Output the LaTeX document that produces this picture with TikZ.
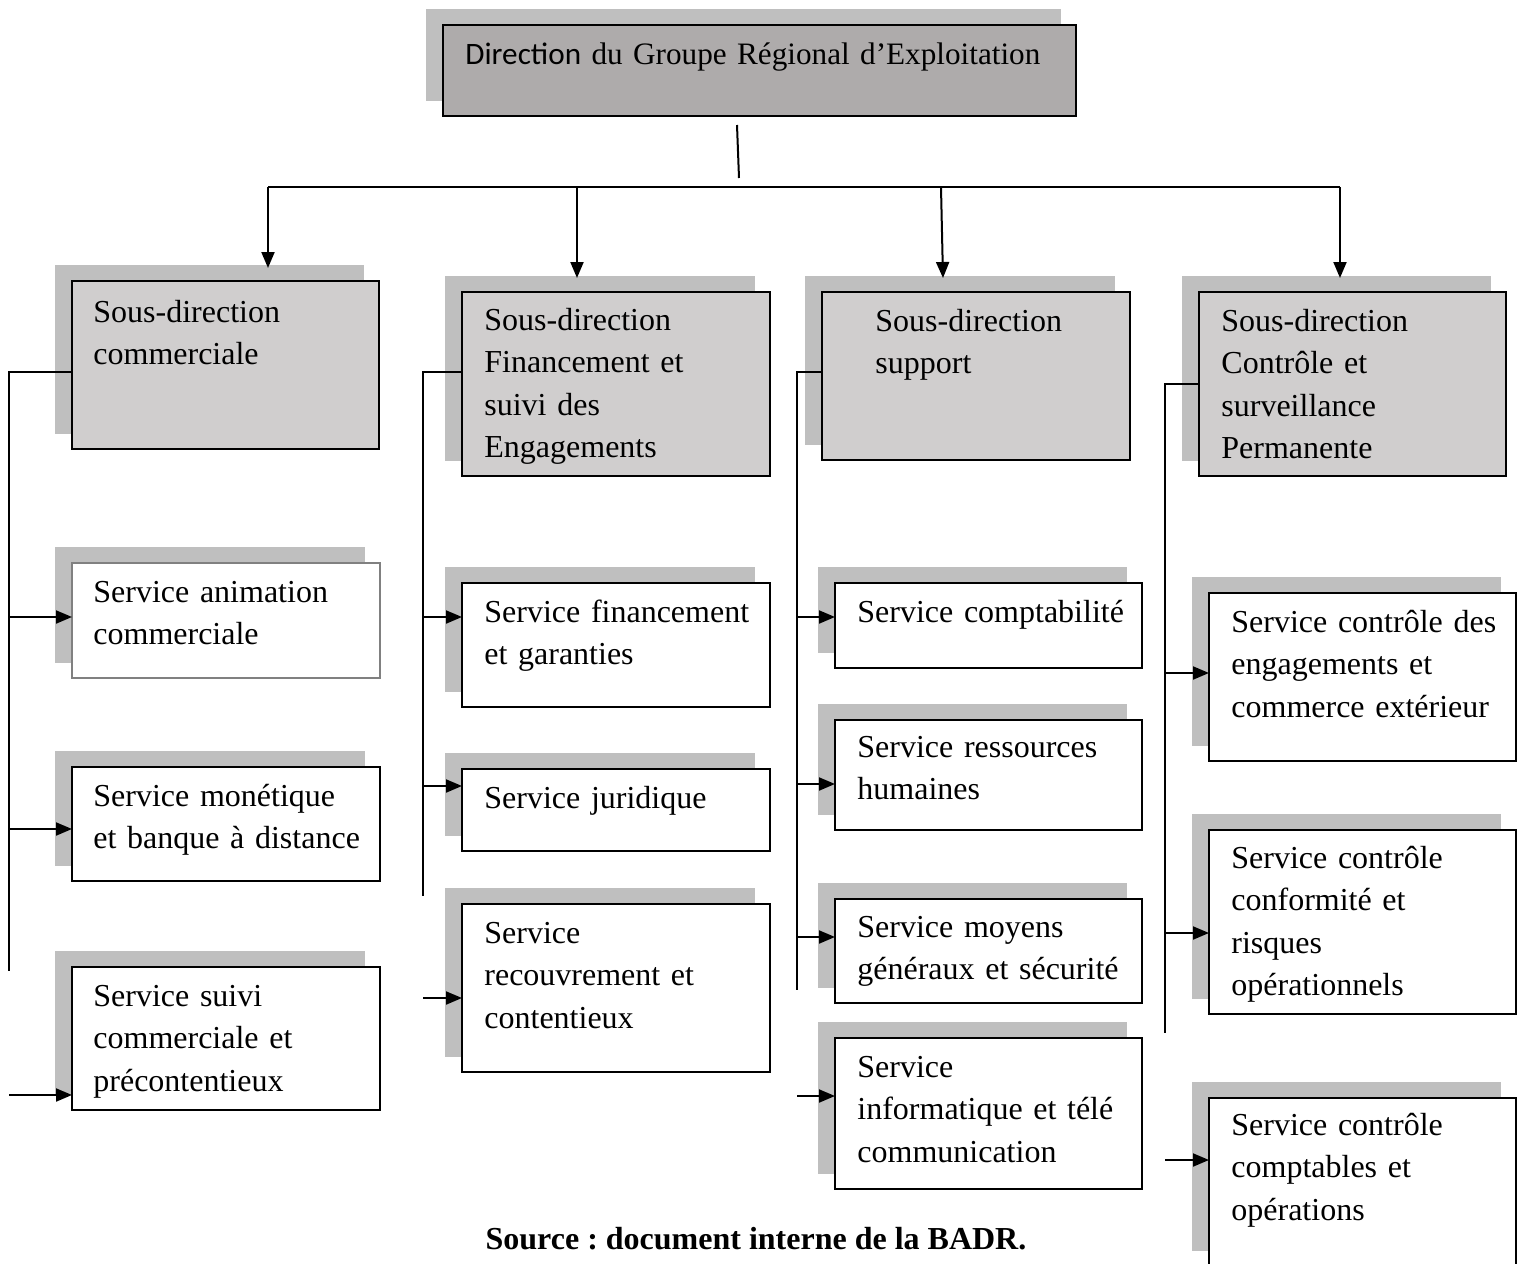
\documentclass[tikz,border=0pt]{standalone}
\usepackage{fontspec}
\setmainfont{Liberation Serif}
\newfontfamily\calfont{Carlito}
\usetikzlibrary{arrows.meta,fit}
\definecolor{shadowc}{HTML}{BFBFBF}
\definecolor{sdfill}{HTML}{D0CECE}
\definecolor{titlefill}{HTML}{AEABAB}
\definecolor{graybord}{HTML}{808080}
\frenchspacing
\newcommand\orgbox[6]{%
  \fill[shadowc] (#2-17,#3-16) rectangle (#4-15,#5-15);
  \node[#6, fit={(#2,#3) (#4,#5)}] (#1) {};
}
\tikzset{
  boxbase/.style={draw=black, line width=1pt, inner sep=0pt, outer sep=0pt},
  titlebox/.style={boxbase, fill=titlefill},
  sdbox/.style={boxbase, fill=sdfill},
  svcbox/.style={boxbase, fill=white},
  svcgray/.style={boxbase, draw=graybord, fill=white},
  txt/.style={anchor=base west, inner sep=0pt, align=left, text width=180pt,
    font=\fontsize{16}{21.3}\selectfont\frenchspacing},
  ln/.style={line width=1pt},
  arr/.style={line width=1pt, -{Triangle[length=8pt,width=6.5pt]}},
}
\begin{document}
\begin{tikzpicture}[x=0.5pt,y=-0.5pt]
\useasboundingbox (0,0) rectangle (1517,1264);
\clip (0,0) rectangle (1517,1264);
\fill[white] (0,0) rectangle (1517,1264);

% boxes
\orgbox{title}{443}{25}{1076}{116}{titlebox}
\orgbox{sd1}{72}{281}{379}{449}{sdbox}
\orgbox{s11}{72}{563}{380}{678}{svcgray}
\orgbox{s12}{72}{767}{380}{881}{svcbox}
\orgbox{s13}{72}{967}{380}{1110}{svcbox}
\orgbox{sd2}{462}{292}{770}{476}{sdbox}
\orgbox{s21}{462}{583}{770}{707}{svcbox}
\orgbox{s22}{462}{769}{770}{851}{svcbox}
\orgbox{s23}{462}{904}{770}{1072}{svcbox}
\orgbox{sd3}{822}{292}{1130}{460}{sdbox}
\orgbox{s31}{835}{583}{1142}{668}{svcbox}
\orgbox{s32}{835}{720}{1142}{830}{svcbox}
\orgbox{s33}{835}{899}{1142}{1003}{svcbox}
\orgbox{s34}{835}{1038}{1142}{1189}{svcbox}
\orgbox{sd4}{1199}{292}{1506}{476}{sdbox}
\orgbox{s41}{1209}{593}{1516}{761}{svcbox}
\orgbox{s42}{1209}{830}{1516}{1014}{svcbox}
\orgbox{s43}{1209}{1098}{1516}{1266}{svcbox}

% texts
\node[txt, text width=330pt, font=\fontsize{15.6}{20}\selectfont\frenchspacing] (titlet) at (465,64) {{\calfont Direction} du Groupe Régional d’Exploitation};
\node[txt] (sd1t) at (93,322) {Sous-direction\\commerciale};
\node[txt] (s11t) at (93,602) {Service animation\\commerciale};
\node[txt] (s12t) at (93,806) {Service monétique\\et banque à distance};
\node[txt] (s13t) at (93,1006) {Service suivi\\commerciale et\\précontentieux};
\node[txt] (sd2t) at (484,330) {Sous-direction\\Financement et\\suivi des\\Engagements};
\node[txt] (s21t) at (484,622) {Service financement\\et garanties};
\node[txt] (s22t) at (484,808) {Service juridique};
\node[txt] (s23t) at (484,943) {Service\\recouvrement et\\contentieux};
\node[txt] (sd3t) at (875,331) {Sous-direction\\support};
\node[txt] (s31t) at (857,622) {Service comptabilité};
\node[txt] (s32t) at (857,757) {Service ressources\\humaines};
\node[txt] (s33t) at (857,937) {Service moyens\\généraux et sécurité};
\node[txt] (s34t) at (857,1077) {Service\\informatique et télé\\communication};
\node[txt] (sd4t) at (1221,331) {Sous-direction\\Contrôle et\\surveillance\\Permanente};
\node[txt] (s41t) at (1231,632) {Service contrôle des\\engagements et\\commerce extérieur};
\node[txt] (s42t) at (1231,868) {Service contrôle\\conformité et\\risques\\opérationnels};
\node[txt] (s43t) at (1231,1135) {Service contrôle\\comptables et\\opérations};
\node[anchor=base, inner sep=0pt, font=\fontsize{16}{20}\selectfont\bfseries\frenchspacing] (src) at (756,1249) {Source : document interne de la BADR.};

% top connectors
\coordinate (vt) at (737,125);
\coordinate (vb) at (739,178);
\draw[ln] (vt) -- (vb);
\coordinate (busL) at (268,187);
\coordinate (busR) at (1340,187);
\draw[line width=1.4pt] (busL) -- (busR);
\coordinate (b2) at (577,187);
\coordinate (b3) at (941,187);
\coordinate (d1) at (268,268);
\coordinate (d2) at (577,278);
\coordinate (d3) at (943,278);
\coordinate (d4) at (1340,278);
\draw[arr] (busL) -- (d1);
\draw[arr] (b2) -- (d2);
\draw[arr] (b3) -- (d3);
\draw[arr] (busR) -- (d4);

% column 1
\coordinate (c1a) at (9,372);
\coordinate (c1b) at (9,971);
\draw[ln] (sd1.west |- c1a) -- (c1a) -- (c1b);
\coordinate (c1p) at (9,617);
\coordinate (c1q) at (9,829);
\coordinate (c1r) at (9,1095);
\draw[arr] (c1p) -- (c1p -| s11.west);
\draw[arr] (c1q) -- (c1q -| s12.west);
\draw[arr] (c1r) -- (c1r -| s13.west);

% column 2
\coordinate (c2a) at (423,372);
\coordinate (c2b) at (423,896);
\draw[ln] (sd2.west |- c2a) -- (c2a) -- (c2b);
\coordinate (c2p) at (423,617);
\coordinate (c2q) at (423,786);
\coordinate (c2r) at (423,998);
\draw[arr] (c2p) -- (c2p -| s21.west);
\draw[arr] (c2q) -- (c2q -| s22.west);
\draw[arr] (c2r) -- (c2r -| s23.west);

% column 3
\coordinate (c3a) at (797,372);
\coordinate (c3b) at (797,990);
\draw[ln] (sd3.west |- c3a) -- (c3a) -- (c3b);
\coordinate (c3p) at (797,617);
\coordinate (c3q) at (797,784);
\coordinate (c3r) at (797,937);
\coordinate (c3s) at (797,1096);
\draw[arr] (c3p) -- (c3p -| s31.west);
\draw[arr] (c3q) -- (c3q -| s32.west);
\draw[arr] (c3r) -- (c3r -| s33.west);
\draw[arr] (c3s) -- (c3s -| s34.west);

% column 4
\coordinate (c4a) at (1165,384);
\coordinate (c4b) at (1165,1033);
\draw[ln] (sd4.west |- c4a) -- (c4a) -- (c4b);
\coordinate (c4p) at (1165,673);
\coordinate (c4q) at (1165,933);
\coordinate (c4r) at (1165,1160);
\draw[arr] (c4p) -- (c4p -| s41.west);
\draw[arr] (c4q) -- (c4q -| s42.west);
\draw[arr] (c4r) -- (c4r -| s43.west);
\end{tikzpicture}
\end{document}
